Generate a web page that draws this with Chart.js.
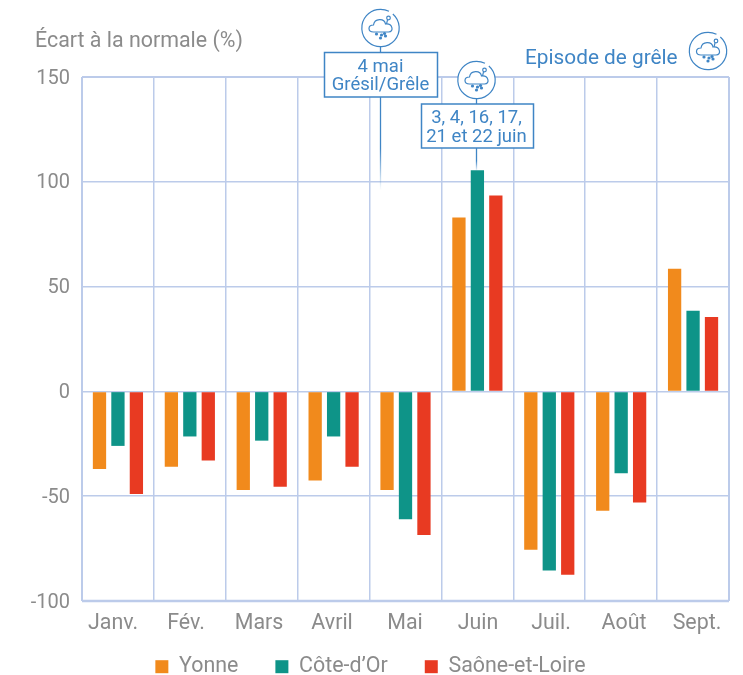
<!DOCTYPE html>
<html><head><meta charset="utf-8">
<style>html,body{margin:0;padding:0;background:#fff}#w{width:743px;height:675px}</style>
<script src="https://cdn.jsdelivr.net/npm/chart.js@4"></script></head>
<body><div id="w"><canvas id="c"></canvas></div>
<script>
const categories=["Janv.","Fév.","Mars","Avril","Mai","Juin","Juil.","Août","Sept."];
const yonne=[-37,-36,-47,-42.5,-47,83,-75.5,-57,58.5];
const coteDor=[-26,-21.5,-23.5,-21.5,-61,105.5,-85.5,-39,38.5];
const saone=[-49,-33,-45.5,-36,-68.5,93.5,-87.5,-53,35.5];
const yTicks=[150,100,50,0,-50,-100];
const BLUE="#3f85c5",GRID="#bccbea",GREY="#8b8b8b",FONT="Roboto";
const callouts=[
 {cat:4,dx:-26,val:96,lines:["4 mai","Grésil/Grêle"],boxW:113,boxTop:52.5,boxH:44.5,cy:28},
 {cat:5,dx:-1,val:105,lines:["3, 4, 16, 17,","21 et 22 juin"],boxW:112,boxTop:104,boxH:44,cy:80}
];
function icon(g,cx,cy){
 g.save();g.strokeStyle=BLUE;g.fillStyle=BLUE;g.lineWidth=1.2;
 g.beginPath();g.fillStyle="#fff";g.arc(cx,cy,18.7,0,Math.PI*2);g.fill();g.fillStyle=BLUE;
 g.beginPath();g.arc(cx,cy,18.7,-0.85,-1.1+Math.PI*2);g.stroke();
 g.beginPath();
 g.moveTo(cx-7,cy+4);g.bezierCurveTo(cx-13,cy+4,cx-13,cy-3,cx-7,cy-3);
 g.bezierCurveTo(cx-6,cy-10,cx+4,cy-10,cx+5,cy-4);
 g.bezierCurveTo(cx+12,cy-5,cx+14,cy+4,cx+8,cy+4);g.closePath();g.stroke();
 g.beginPath();g.moveTo(cx+6,cy-4);g.lineTo(cx+7,cy-8);g.stroke();
 g.beginPath();g.arc(cx+8,cy-10,1.8,0,Math.PI*2);g.stroke();
 [[-4,6],[1,7],[4,5.5],[0,10],[5,8]].forEach(p=>{g.beginPath();g.arc(cx+p[0],cy+p[1],1.6,0,Math.PI*2);g.fill();});
 g.restore();
}
const labelStretch=1.1;
const extras={id:"extras",
 beforeDraw(ch){const s=ch.scales.x,v=ch.scales.y;if(s.$st)return;s.$st=true;
  s.bottom+=40;
  s.getLabelItems().forEach((it,i)=>{it.options.translation=[it.options.translation[0]+(i-4.4)*labelStretch,it.options.translation[1]];});
  v.getLabelItems().forEach(it=>{it.options.translation=[it.options.translation[0],it.options.translation[1]+1.5];});
  ch.legend.left+=6;ch.legend.right+=6;ch.legend.top+=1;ch.legend.bottom+=1;},
 beforeDatasetsDraw(ch){const a=ch.chartArea,g=ch.ctx;g.save();g.strokeStyle=GRID;
  g.lineWidth=2;g.beginPath();g.moveTo(a.left,a.top);g.lineTo(a.right,a.top);g.moveTo(a.left,a.top);g.lineTo(a.left,a.bottom);g.moveTo(a.right,a.top);g.lineTo(a.right,a.bottom);g.stroke();
  g.lineWidth=2.5;g.beginPath();g.moveTo(a.left,a.bottom);g.lineTo(a.right,a.bottom);g.stroke();g.restore();},
 afterDatasetsDraw(ch){const g=ch.ctx,x=ch.scales.x,y=ch.scales.y;g.save();
  g.fillStyle=GREY;g.font="400 21.4px "+FONT;g.textAlign="left";g.textBaseline="alphabetic";
  g.fillText("Écart à la normale (%)",35,47);
  g.fillStyle=BLUE;g.font="400 20.8px "+FONT;g.fillText("Episode de grêle",525,64);
  icon(g,708,51);
  callouts.forEach(c=>{const cx=Math.round(x.getPixelForValue(c.cat)+c.dx)+.5,bottom=c.boxTop+c.boxH,end=y.getPixelForValue(c.val);
   g.strokeStyle=BLUE;g.lineWidth=1.3;
   g.beginPath();g.moveTo(cx,c.cy+18);g.lineTo(cx,c.boxTop);g.stroke();
   const lg=g.createLinearGradient(0,bottom,0,end);lg.addColorStop(0,BLUE);lg.addColorStop(.55,BLUE);lg.addColorStop(1,"rgba(63,133,197,0)");
   g.strokeStyle=lg;g.beginPath();g.moveTo(cx,bottom);g.lineTo(cx,end);g.stroke();
   g.fillStyle="#fff";g.strokeStyle=BLUE;g.lineWidth=1.5;
   const bx=Math.round(cx-c.boxW/2)+.5;
   g.fillRect(bx,c.boxTop,c.boxW,c.boxH);g.strokeRect(bx,c.boxTop,c.boxW,c.boxH);
   g.fillStyle=BLUE;g.font="400 18.5px "+FONT;g.textAlign="center";
   c.lines.forEach((t,i)=>g.fillText(t,cx,c.boxTop+19+i*18.5));
   g.textAlign="left";
   icon(g,cx,c.cy);
  });
  g.restore();}
};
const mk=(label,data,color)=>({label,data,backgroundColor:color,borderWidth:0,categoryPercentage:.77,barPercentage:.72});
new Chart(document.getElementById("c"),{type:"bar",plugins:[extras],
 data:{labels:categories,datasets:[mk("Yonne",yonne,"#f18a1c"),mk("Côte-d’Or",coteDor,"#0e9488"),mk("Saône-et-Loire",saone,"#e83a22")]},
 options:{responsive:true,maintainAspectRatio:false,animation:false,
  layout:{padding:{top:77,right:14,left:0,bottom:0}},
  plugins:{tooltip:{enabled:false},title:{display:false},
   legend:{position:"bottom",maxHeight:57,labels:{boxWidth:13,boxHeight:13,padding:37,color:GREY,font:{family:FONT,size:21.4}}}},
  scales:{
   x:{grid:{color:GRID,lineWidth:1.5,drawTicks:false,offset:true},border:{display:false},
      ticks:{color:GREY,font:{family:FONT,size:21.4},padding:10,maxRotation:0,autoSkip:false},
      afterFit(s){s.height=17;}},
   y:{min:-100,max:150,afterBuildTicks(s){s.ticks=yTicks.map(v=>({value:v}));},
      grid:{color:GRID,lineWidth:1.5,drawTicks:false},border:{display:false},
      ticks:{color:GREY,font:{family:FONT,size:20},padding:12},
      afterFit(s){s.width=82;}}
  }}});
</script></body></html>
